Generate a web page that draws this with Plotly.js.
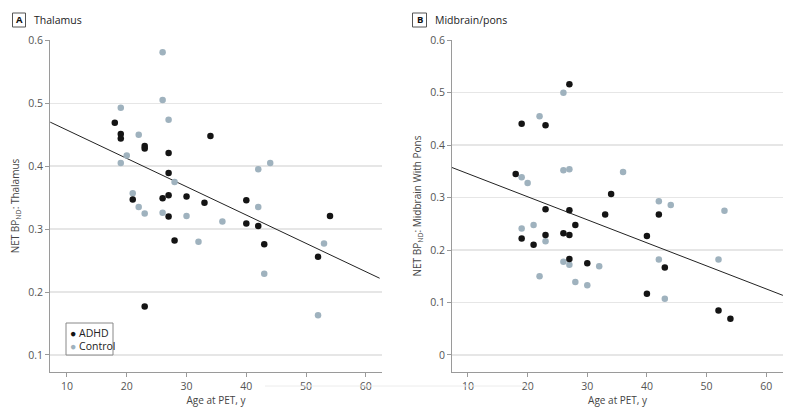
<!DOCTYPE html>
<html><head><meta charset="utf-8">
<script src="https://cdn.plot.ly/plotly-3.0.1.min.js"></script>
<style>html,body{margin:0;padding:0;background:#fff}#chart{width:800px;height:413px}</style>
</head><body><div id="chart"></div>
<script>
// Panel A: Thalamus
const adhdAgeA = [18,19,19,34,23,23,27,27,21,26,27,30,33,40,27,40,42,28,23,54,43,52];
const adhdValA = [0.469,0.451,0.444,0.448,0.432,0.428,0.421,0.389,0.347,0.349,0.354,0.352,0.342,0.346,0.320,0.309,0.305,0.282,0.177,0.321,0.276,0.256];
const ctrlAgeA = [26,26,19,27,22,20,19,28,21,42,44,22,23,26,30,36,32,42,53,43,52];
const ctrlValA = [0.581,0.505,0.493,0.474,0.450,0.417,0.405,0.375,0.357,0.395,0.405,0.335,0.325,0.326,0.321,0.312,0.280,0.335,0.277,0.229,0.163];
const fitAgeA = [7.2,62.3];
const fitValA = [0.470,0.222];

// Panel B: Midbrain/pons
const adhdAgeB = [27,19,23,18,34,23,27,33,28,19,23,26,27,21,27,30,42,40,43,40,52,54];
const adhdValB = [0.516,0.441,0.438,0.345,0.307,0.278,0.276,0.268,0.248,0.222,0.229,0.232,0.229,0.210,0.183,0.175,0.268,0.227,0.167,0.117,0.085,0.069];
const ctrlAgeB = [26,22,19,20,26,27,36,19,21,23,26,27,32,22,28,30,42,44,53,42,52,43];
const ctrlValB = [0.500,0.455,0.339,0.328,0.352,0.354,0.349,0.241,0.248,0.217,0.178,0.172,0.169,0.150,0.139,0.133,0.293,0.286,0.275,0.182,0.182,0.107];
const fitAgeB = [7.3,62.8];
const fitValB = [0.3575,0.1137];

const xTicks = [10,20,30,40,50,60];
const yTicksA = [0.1,0.2,0.3,0.4,0.5,0.6];
const yTickTextA = ['0.1','0.2','0.3','0.4','0.5','0.6'];
const yTicksB = [0,0.1,0.2,0.3,0.4,0.5,0.6];
const yTickTextB = ['0','0.1','0.2','0.3','0.4','0.5','0.6'];

const groupNames = ['ADHD','Control'];
const panelLabels = ['A','B'];
const panelTitles = ['Thalamus','Midbrain/pons'];

const ADHD_COLOR = '#141414';
const CTRL_COLOR = '#9fb2be';
const FONT = '"Open Sans", "Noto Sans", Arial, sans-serif';

function pts(x, y, color, xa, ya, name){
  return {x:x, y:y, type:'scatter', mode:'markers', name:name, xaxis:xa, yaxis:ya,
    marker:{color:color, size:6.5}, showlegend:false, hoverinfo:'x+y'};
}
function fit(x, y, xa, ya){
  return {x:x, y:y, type:'scatter', mode:'lines', xaxis:xa, yaxis:ya,
    line:{color:'#222', width:1}, showlegend:false, hoverinfo:'skip'};
}

const data = [
  fit(fitAgeA, fitValA, 'x', 'y'),
  pts(ctrlAgeA, ctrlValA, CTRL_COLOR, 'x', 'y', groupNames[1]),
  pts(adhdAgeA, adhdValA, ADHD_COLOR, 'x', 'y', groupNames[0]),
  fit(fitAgeB, fitValB, 'x2', 'y2'),
  pts(ctrlAgeB, ctrlValB, CTRL_COLOR, 'x2', 'y2', groupNames[1]),
  pts(adhdAgeB, adhdValB, ADHD_COLOR, 'x2', 'y2', groupNames[0])
];

const tickFont = {family:FONT, size:10.5, color:'#555'};
const titleFont = {family:FONT, size:10, color:'#444'};

function xax(domain, range, anchor){
  return {domain:domain, range:range, anchor:anchor, tickvals:xTicks, ticktext:xTicks.map(String),
    showgrid:false, zeroline:false, showline:true, linecolor:'#9a9a9a', linewidth:1,
    ticks:'outside', ticklen:4, tickcolor:'#9a9a9a', tickfont:tickFont,
    title:{text:'Age at PET, y', font:titleFont, standoff:3}};
}
function yax(range, anchor, tv, tt, title){
  return {domain:[0.0993,0.9031], range:range, anchor:anchor, tickvals:tv, ticktext:tt,
    showgrid:true, gridcolor:'#e6e6e6', gridwidth:1.5, zeroline:false, showline:true,
    linecolor:'#9a9a9a', linewidth:1, ticks:'outside', ticklen:4, tickcolor:'#9a9a9a',
    tickfont:tickFont, title:{text:title, font:titleFont, standoff:6}};
}

const annotations = [
  {text:'<b>'+panelLabels[0]+'</b>', x:19, y:20, font:{family:FONT,size:9.5,color:'#111'}},
  {text:panelTitles[0], x:32, y:20, xanchor:'left', font:{family:FONT,size:10.5,color:'#222'}},
  {text:'<b>'+panelLabels[1]+'</b>', x:419.5, y:20, font:{family:FONT,size:9.5,color:'#111'}},
  {text:panelTitles[1], x:433, y:20, xanchor:'left', font:{family:FONT,size:10.5,color:'#222'}},
  {text:'<span style="color:'+ADHD_COLOR+'">●</span> '+groupNames[0], x:68, y:333, xanchor:'left', font:{family:FONT,size:10.5,color:'#222'}},
  {text:'<span style="color:'+CTRL_COLOR+'">●</span> '+groupNames[1], x:68, y:345.5, xanchor:'left', font:{family:FONT,size:10.5,color:'#222'}}
].map(a => Object.assign({xref:'paper', yref:'paper', showarrow:false, yanchor:'middle', xanchor:'center'}, a, {x:a.x/800, y:(413-a.y)/413}));

const shapes = [
  {type:'rect', xref:'paper', yref:'paper', x0:12.5/800, x1:25.5/800, y0:(413-27)/413, y1:(413-13)/413, line:{color:'#555', width:1}},
  {type:'rect', xref:'paper', yref:'paper', x0:412.5/800, x1:426.5/800, y0:(413-27)/413, y1:(413-13)/413, line:{color:'#555', width:1}},
  {type:'rect', xref:'paper', yref:'paper', x0:66/800, x1:113/800, y0:(413-355)/413, y1:(413-323)/413, line:{color:'#888', width:1}, fillcolor:'#fff', layer:'above'},
  {type:'line', xref:'paper', yref:'paper', x0:265/800, x1:530/800, y0:(413-386)/413, y1:(413-386)/413, line:{color:'#ececec', width:1}}
];

const layout = {
  width:800, height:413,
  margin:{l:0, r:0, t:0, b:0},
  paper_bgcolor:'#fff', plot_bgcolor:'#fff',
  font:{family:FONT},
  showlegend:false,
  xaxis: xax([0.0625,0.4775], [7.16,62.7], 'y'),
  yaxis: yax([0.073,0.6005], 'x', yTicksA, yTickTextA, 'NET BP<sub>ND</sub>: Thalamus'),
  xaxis2: xax([0.565,0.979], [7.32,62.85], 'y2'),
  yaxis2: yax([-0.0324,0.6005], 'x2', yTicksB, yTickTextB, 'NET BP<sub>ND</sub>: Midbrain With Pons'),
  annotations: annotations,
  shapes: shapes
};

Plotly.newPlot('chart', data, layout, {displayModeBar:false, staticPlot:true});
</script>
</body></html>
